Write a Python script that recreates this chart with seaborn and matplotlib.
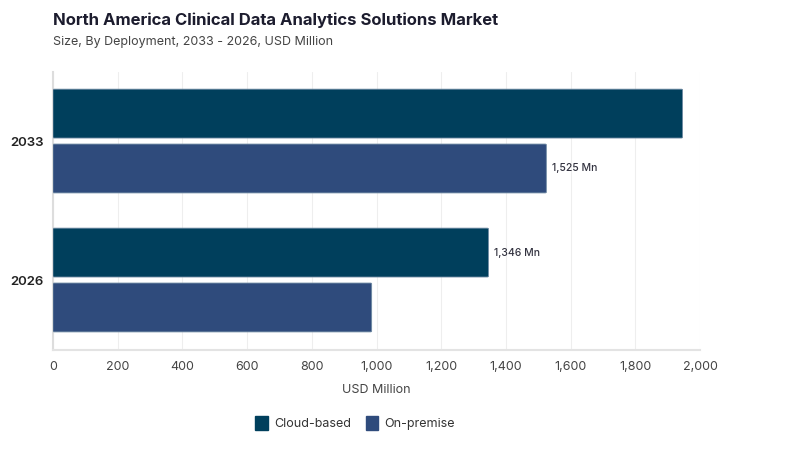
import matplotlib
matplotlib.use("Agg")
import matplotlib.pyplot as plt
import seaborn as sns
import pandas as pd
from matplotlib.patches import FancyBboxPatch, Patch

years = ["2033", "2026"]
deployments = ["Cloud-based", "On-premise"]
cloud_values = [1946, 1346]
onprem_values = [1525, 985]
annotated = {("2033", "On-premise"): "1,525 Mn", ("2026", "Cloud-based"): "1,346 Mn"}
x_ticks = [0, 200, 400, 600, 800, 1000, 1200, 1400, 1600, 1800, 2000]

colors = {"Cloud-based": "#003f5c", "On-premise": "#2f4b7c"}

df = pd.DataFrame({
    "Year": years * 2,
    "Deployment": ["Cloud-based"] * 2 + ["On-premise"] * 2,
    "Value": cloud_values + onprem_values,
})

sns.set_theme(style="white")
plt.rcParams["font.family"] = ["Inter", "DejaVu Sans"]

fig = plt.figure(figsize=(8, 4.5), dpi=100)
ax = fig.add_axes([0.06625, 0.2233, 0.80875, 0.6177])

sns.barplot(data=df, y="Year", x="Value", hue="Deployment", order=years,
            hue_order=deployments, palette=colors, orient="h",
            width=0.79, gap=0.11, ax=ax, legend=False, saturation=1)

# rounded corners
for p in list(ax.patches):
    x0, y0 = p.get_x(), p.get_y()
    w, h = p.get_width(), p.get_height()
    fc = p.get_facecolor()
    p.set_visible(False)
    fb = FancyBboxPatch((x0, y0), w, h,
                        boxstyle="round,pad=0,rounding_size=4",
                        mutation_aspect=0.0012, facecolor=fc,
                        edgecolor="#6f8aa3", linewidth=0.6, zorder=3)
    ax.add_patch(fb)

# annotations
for i, yr in enumerate(years):
    for j, dep in enumerate(deployments):
        key = (yr, dep)
        if key in annotated:
            val = (cloud_values if dep == "Cloud-based" else onprem_values)[i]
            ypos = i - 0.79 / 4 + j * 0.79 / 2
            ax.text(val + 18, ypos, annotated[key], va="center", ha="left",
                    fontsize=7.5, color="#333340", fontweight="medium")

ax.set_xlim(0, 2000)
ax.set_ylim(1.5, -0.5)
ax.set_xticks(x_ticks)
ax.set_xticklabels([f"{t:,}" for t in x_ticks], fontsize=9, color="#444444")
ax.set_yticks([0, 1])
ax.set_yticklabels(years, fontsize=9.5, color="#222222", fontweight="semibold")
ax.tick_params(axis="y", length=0, pad=7)
ax.tick_params(axis="x", length=0, pad=8)
ax.set_ylabel("")
ax.set_xlabel("USD Million", fontsize=9, color="#444444", labelpad=8)

ax.grid(axis="x", color="#eeeeee", linewidth=0.8, zorder=0)
ax.set_axisbelow(True)
for s in ["top", "right"]:
    ax.spines[s].set_visible(False)
ax.spines["left"].set_color("#dddddd")
ax.spines["left"].set_linewidth(1.5)
ax.spines["bottom"].set_color("#e3e3e3")
ax.spines["bottom"].set_linewidth(1.5)

fig.text(0.066, 0.955, "North America Clinical Data Analytics Solutions Market",
         fontsize=12, fontweight="bold", color="#1c1c2e", va="center", ha="left")
fig.text(0.066, 0.907, "Size, By Deployment, 2033 - 2026, USD Million",
         fontsize=9, color="#444444", va="center", ha="left")

handles = [Patch(facecolor=colors[d], edgecolor=colors[d], label=d) for d in deployments]
fig.legend(handles=handles, loc="center", bbox_to_anchor=(0.444, 0.06), ncol=2,
           frameon=False, fontsize=9, handlelength=1.0, handleheight=1.3,
           handletextpad=0.5, columnspacing=1.2, labelcolor="#333333")

fig.savefig("out.png", dpi=100)
